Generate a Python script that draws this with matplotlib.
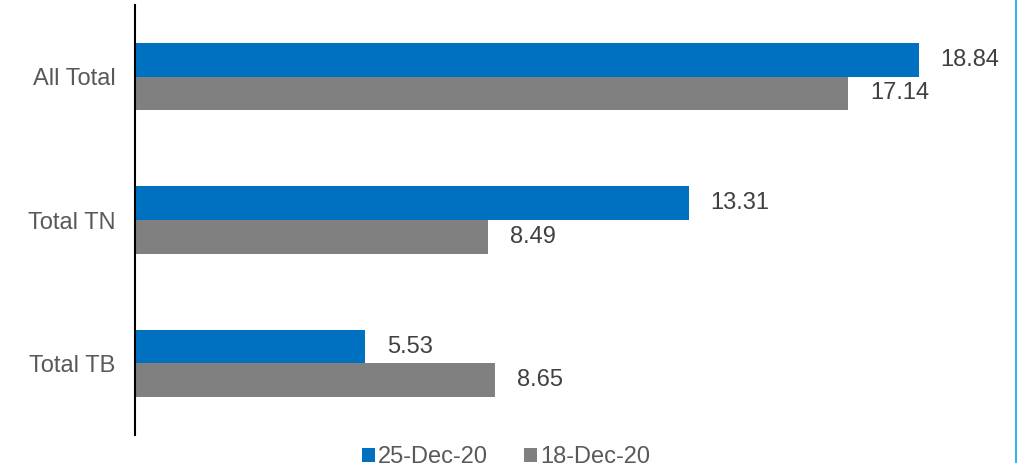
import matplotlib
matplotlib.use('Agg')
import matplotlib.pyplot as plt
from matplotlib.lines import Line2D
from matplotlib.patches import Patch
import numpy as np

categories = ['All Total', 'Total TN', 'Total TB']
series_names = ['25-Dec-20', '18-Dec-20']
values_25 = [18.84, 13.31, 5.53]
values_18 = [17.14, 8.49, 8.65]
colors = ['#0070C0', '#808080']

plt.rcParams['font.family'] = ['Liberation Sans', 'DejaVu Sans']

W, H = 1028, 469
fig = plt.figure(figsize=(W / 100, H / 100), dpi=100)
fig.patch.set_facecolor('white')

# axes box in pixels: left 135, right 1005, top 5, bottom 435
ax = fig.add_axes([135 / W, (H - 435) / H, (1005 - 135) / W, 430 / H])

y = np.arange(len(categories))
bh = 0.234
ax.barh(y - bh / 2, values_25, height=bh, color=colors[0])
ax.barh(y + bh / 2, values_18, height=bh, color=colors[1])

xmax = 870 / 41.6
ax.set_xlim(0, xmax)
ax.set_ylim(len(categories) - 0.5, -0.5)

fs = 17
off = 22 / 41.6
for i in range(len(categories)):
    ax.text(values_25[i] + off, y[i] - bh / 2, f'{values_25[i]:.2f}',
            va='center', ha='left', fontsize=fs, color='#404040')
    ax.text(values_18[i] + off, y[i] + bh / 2, f'{values_18[i]:.2f}',
            va='center', ha='left', fontsize=fs, color='#404040')

ax.set_yticks(y)
ax.set_yticklabels(categories, fontsize=fs, color='#595959')
ax.tick_params(axis='y', length=0, pad=14)
ax.set_xticks([])

for s in ['top', 'right', 'bottom']:
    ax.spines[s].set_visible(False)
ax.spines['left'].set_color('black')
ax.spines['left'].set_linewidth(1.5)

handles = [Patch(facecolor=c, edgecolor='none') for c in colors]
fig.legend(handles, series_names, loc='center', bbox_to_anchor=(506 / W, (H - 457) / H),
           ncol=2, frameon=False, fontsize=fs, handlelength=0.55, handleheight=0.55,
           handletextpad=0.15, columnspacing=1.5, labelcolor='#595959')

fig.add_artist(Line2D([1016 / W, 1016 / W], [(H - 462) / H, 1.0],
                      transform=fig.transFigure, color='#33B5F0', linewidth=1.5))

fig.savefig('out.png', dpi=100, facecolor='white')
